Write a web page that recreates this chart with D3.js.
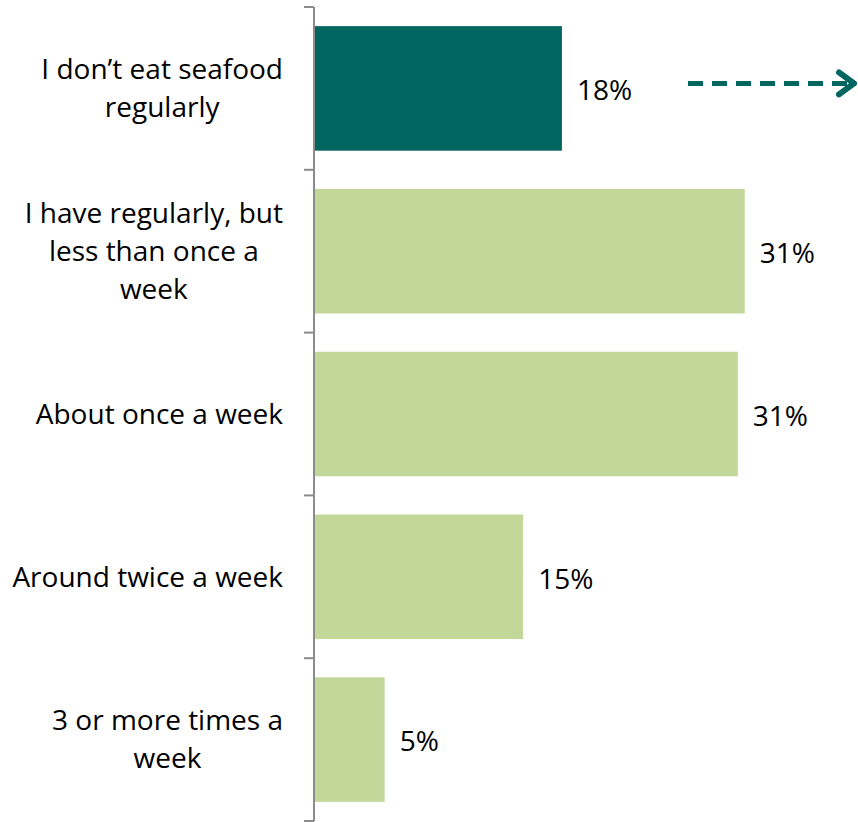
<!DOCTYPE html>
<html>
<head>
<meta charset="utf-8">
<script src="https://cdn.jsdelivr.net/npm/d3@7"></script>
<style>
  html, body { margin: 0; padding: 0; background: #fff; }
  svg { display: block; }
  text { font-family: "Open Sans", Lato, sans-serif; fill: #000; }
</style>
</head>
<body>
<svg id="chart" width="858" height="822"></svg>
<script>
// How often people eat seafood (% of respondents)
const categories = [
  ["I don\u2019t eat seafood", "regularly"],
  ["I have regularly, but", "less than once a", "week"],
  ["About once a week"],
  ["Around twice a week"],
  ["3 or more times a", "week"]
];
const values = [17.9, 31.1, 30.6, 15.1, 5.1];
const highlight = [true, false, false, false, false];

const colorDark = "#00665F";
const colorLight = "#C4D79B";
const axisColor = "#8C8C8C";

const svg = d3.select("#chart");
const axisX = 314;
const fontSize = 28;
const lineH = 38;

const idx = d3.range(categories.length);
const y = d3.scaleBand().domain(idx).range([7, 821]).paddingInner(0.235).paddingOuter(0.1175);
const x = d3.scaleLinear().domain([0, 40]).range([axisX, axisX + 554]);

// bars
svg.append("g").selectAll("rect").data(idx).join("rect")
  .attr("x", axisX)
  .attr("y", i => y(i))
  .attr("width", i => x(values[i]) - axisX)
  .attr("height", y.bandwidth())
  .attr("fill", i => highlight[i] ? colorDark : colorLight);

// value labels
const fmt = v => d3.format(".0f")(v) + "%";
svg.append("g").selectAll("text").data(idx).join("text")
  .attr("x", i => x(values[i]) + 15)
  .attr("y", i => y(i) + y.bandwidth() / 2)
  .attr("dy", "0.42em")
  .attr("font-size", fontSize)
  .text(i => fmt(values[i]));

// category axis: vertical line with ticks at band boundaries
const step = y.step();
const bounds = idx.map(i => y(i) - y.paddingOuter() * step).concat([821]);
const axisG = svg.append("g");
axisG.append("line")
  .attr("x1", axisX).attr("x2", axisX)
  .attr("y1", bounds[0]).attr("y2", 821)
  .attr("stroke", axisColor).attr("stroke-width", 2);
axisG.selectAll("line.tick").data(bounds).join("line")
  .attr("class", "tick")
  .attr("x1", axisX - 10).attr("x2", axisX)
  .attr("y1", b => b).attr("y2", b => b)
  .attr("stroke", axisColor).attr("stroke-width", 2);

// category labels: block right-aligned, lines centred within the block
const labelRight = 283;
idx.forEach(i => {
  const lines = categories[i];
  const g = svg.append("g");
  const texts = lines.map((ln, k) => g.append("text")
    .attr("font-size", fontSize)
    .attr("text-anchor", "middle")
    .attr("dy", "0.35em")
    .attr("y", y(i) + y.bandwidth() / 2 + (k - (lines.length - 1) / 2) * lineH)
    .text(ln));
  const maxW = d3.max(texts, t => t.node().getComputedTextLength());
  texts.forEach(t => t.attr("x", labelRight - maxW / 2));
});

// dashed arrow pointing right from the highlighted bar
const arrowY = y(0) + y.bandwidth() / 2 - 5;
svg.append("line")
  .attr("x1", 688).attr("x2", 848)
  .attr("y1", arrowY).attr("y2", arrowY)
  .attr("stroke", colorDark).attr("stroke-width", 5)
  .attr("stroke-dasharray", "15 9");
svg.append("path")
  .attr("d", `M839,${arrowY - 11} L854,${arrowY} L839,${arrowY + 11}`)
  .attr("fill", "none")
  .attr("stroke", colorDark).attr("stroke-width", 6)
  .attr("stroke-linecap", "round").attr("stroke-linejoin", "round");
</script>
</body>
</html>
